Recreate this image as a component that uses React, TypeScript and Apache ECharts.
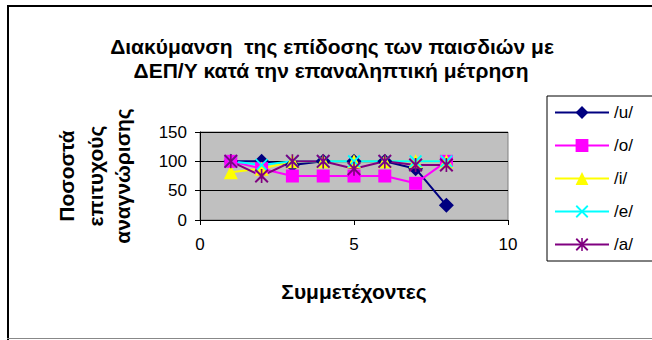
import React, { useEffect, useRef } from "react";
import * as echarts from "echarts";

// Participants (x) and recognition percentages per vowel
const participants = [1, 2, 3, 4, 5, 6, 7, 8];
const uValues = [100, 100, 93.75, 100, 100, 100, 87.5, 25];
const oValues = [100, 87.5, 75, 75, 75, 75, 62.5, 100];
const iValues = [81.25, 87.5, 100, 100, 100, 100, 100, 100];
const eValues = [100, 93.75, 100, 100, 100, 100, 100, 100];
const aValues = [100, 75, 100, 100, 87.5, 100, 93.75, 93.75];

const seriesNames = ["/u/", "/o/", "/i/", "/e/", "/a/"];
const yTicks = [0, 50, 100, 150];
const xTicks = [0, 5, 10];

const FONT = 'Arial, "Liberation Sans", sans-serif';

// Cross and asterisk marker shapes
const CROSS = "path://M0,1L1,0L10,9L9,10Z M9,0L10,1L1,10L0,9Z";
const STAR =
  "path://M0,1L1,0L10,9L9,10Z M9,0L10,1L1,10L0,9Z M4.4,0L5.6,0L5.6,10L4.4,10Z";

const pairs = (ys: number[]) => participants.map((x, k) => [x, ys[k]]);

const boldText = (text: string, x: number, y: number, rotation = 0) => ({
  type: "text",
  x,
  y,
  rotation,
  style: {
    text,
    font: `bold 21px ${FONT}`,
    fill: "#000",
    textAlign: "center",
    textVerticalAlign: "middle",
  },
});

// Chart-area frame: open on the right, as the chart object continues past the edge
const frameLine = (x1: number, y1: number, x2: number, y2: number, color: string, w: number) => ({
  type: "line",
  shape: { x1, y1, x2, y2 },
  style: { stroke: color, lineWidth: w },
  silent: true,
  z: 50,
});

export default function App() {
  const ref = useRef<HTMLDivElement>(null);

  useEffect(() => {
    if (!ref.current) return;
    const chart = echarts.init(ref.current, null, { renderer: "svg" });

    const mk = (
      name: string,
      data: number[],
      color: string,
      symbol: string,
      size: number
    ) => ({
      name,
      type: "line",
      data: pairs(data),
      symbol,
      symbolSize: size,
      showAllSymbol: true,
      lineStyle: { color, width: 2 },
      itemStyle: { color, borderWidth: 0 },
      emphasis: { disabled: true },
    });

    chart.setOption({
      animation: false,
      backgroundColor: "#ffffff",
      graphic: [
        frameLine(7, 6, 652, 6, "#000", 2),
        frameLine(8, 5, 8, 340, "#000", 2),
        frameLine(7, 338.5, 652, 338.5, "#888", 1),
        boldText("Διακύμανση  της επίδοσης των παισδιών με", 332, 46),
        boldText("ΔΕΠ/Υ κατά την επαναληπτική μέτρηση", 331, 70),
        boldText("Ποσοστά", 66, 176, Math.PI / 2),
        boldText("επιτυχούς", 95, 176, Math.PI / 2),
        boldText("αναγνώρισης", 122, 176, Math.PI / 2),
        boldText("Συμμετέχοντες", 354, 291),
      ],
      legend: {
        orient: "vertical",
        left: 547,
        top: 96,
        data: seriesNames,
        itemWidth: 54,
        itemHeight: 16,
        itemGap: 16,
        padding: [8, 36, 8, 7],
        borderColor: "#000",
        borderWidth: 1,
        textStyle: { color: "#000", fontSize: 17, fontFamily: FONT },
        selectedMode: false,
      },
      grid: {
        left: 200,
        right: 144,
        top: 132,
        bottom: 120,
        show: true,
        backgroundColor: "#c0c0c0",
        borderColor: "#808080",
        borderWidth: 1,
      },
      xAxis: {
        type: "value",
        min: xTicks[0],
        max: xTicks[xTicks.length - 1],
        interval: 5,
        axisLine: { show: true, onZero: false, lineStyle: { color: "#000", width: 1 } },
        axisTick: { show: true, length: 5, lineStyle: { color: "#000" } },
        splitLine: { show: false },
        axisLabel: { color: "#000", fontSize: 17, fontFamily: FONT, margin: 16 },
      },
      yAxis: {
        type: "value",
        min: yTicks[0],
        max: yTicks[yTicks.length - 1],
        interval: 50,
        axisLine: { show: true, lineStyle: { color: "#000", width: 1 } },
        axisTick: { show: true, length: 5, lineStyle: { color: "#000" } },
        splitLine: { show: true, lineStyle: { color: "#000", width: 1 } },
        axisLabel: { color: "#000", fontSize: 17, fontFamily: FONT, margin: 13 },
      },
      series: [
        mk(seriesNames[0], uValues, "#000080", "diamond", 15),
        mk(seriesNames[1], oValues, "#ff00ff", "rect", 13),
        mk(seriesNames[2], iValues, "#ffff00", "triangle", 14),
        mk(seriesNames[3], eValues, "#00ffff", CROSS, 13),
        mk(seriesNames[4], aValues, "#800080", STAR, 14),
      ],
    });

    return () => chart.dispose();
  }, []);

  return (
    <div
      ref={ref}
      style={{ position: "fixed", left: 0, top: 0, width: 652, height: 340 }}
    />
  );
}
